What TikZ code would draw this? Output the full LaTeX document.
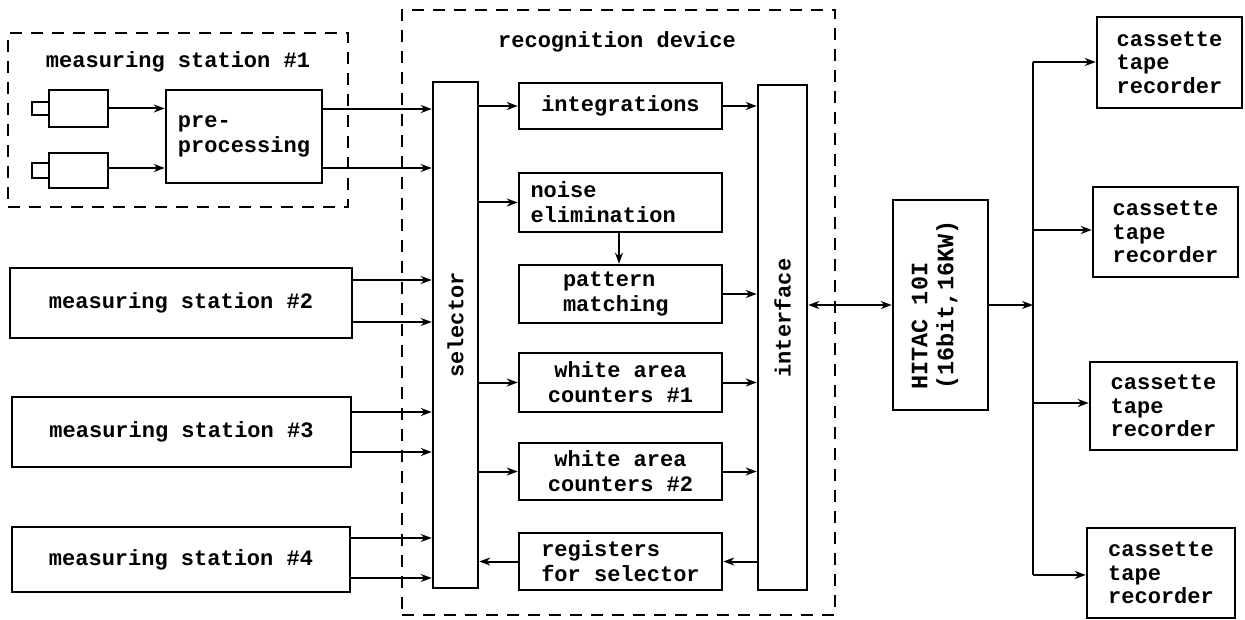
\documentclass[tikz,border=0pt]{standalone}
\usepackage{fontspec}
\setmonofont{Liberation Mono}
\usetikzlibrary{arrows.meta}
\begin{document}
\begin{tikzpicture}[x=1pt,y=-1pt,
  font=\ttfamily\bfseries\fontsize{22}{25}\selectfont,
  box/.style={draw,line width=2.5pt,inner sep=0pt,align=center},
  lbox/.style={box,align=left},
  grp/.style={draw,line width=1.8pt,dash pattern=on 12pt off 9pt},
  arr/.style={line width=2pt,-{Stealth[length=11pt,width=8pt]}},
  darr/.style={line width=2pt,{Stealth[length=11pt,width=8pt]}-{Stealth[length=11pt,width=8pt]}},
  ln/.style={line width=2pt}]
\useasboundingbox (0,0) rectangle (1245,620);
% group frames
\node[grp,minimum width=340pt,minimum height=174pt,inner sep=0pt] (g1) at (178,120) {};
\node (g1lab) at (178,62) {measuring station \#1};
\node[grp,minimum width=433pt,minimum height=605pt,inner sep=0pt] (g2) at (618.5,312.5) {};
\node (g2lab) at (617,42) {recognition device};
% measuring station 1
\node[box,minimum width=59pt,minimum height=37pt] (s1a) at (78.5,108.5) {};
\node[box,line width=2pt,minimum width=17pt,minimum height=13pt] (t1a) at (40.5,108.5) {};
\node[box,minimum width=59pt,minimum height=35pt] (s1b) at (78.5,170.5) {};
\node[box,line width=2pt,minimum width=17pt,minimum height=15pt] (t1b) at (40.5,170.5) {};
\node[lbox,minimum width=156pt,minimum height=93pt] (pre) at (244,136.5) {pre-\\processing};
% other stations
\node[box,minimum width=342pt,minimum height=70pt] (ms2) at (181,303) {measuring station \#2};
\node[box,minimum width=339pt,minimum height=70pt] (ms3) at (181.5,432) {measuring station \#3};
\node[box,minimum width=338pt,minimum height=65pt] (ms4) at (181,559.5) {measuring station \#4};
% recognition device
\node[box,minimum width=45pt,minimum height=506pt] (sel) at (455.5,335) {};
\node[rotate=90] (sellab) at (455.5,325) {selector};
\node[box,minimum width=49pt,minimum height=505pt] (itf) at (782.5,337.5) {};
\node[rotate=90] (itflab) at (782.5,318) {interface};
\node[box,minimum width=203pt,minimum height=46pt] (integ) at (620.5,106) {integrations};
\node[lbox,minimum width=203pt,minimum height=59pt,text width=180pt] (noise) at (620.5,202.5) {noise\\elimination};
\node[lbox,minimum width=203pt,minimum height=58pt,text width=115pt] (pat) at (620.5,294) {pattern\\matching};
\node[box,minimum width=203pt,minimum height=59pt] (wac1) at (620.5,382.5) {white area\\ counters \#1};
\node[box,minimum width=203pt,minimum height=57pt] (wac2) at (620.5,471.5) {white area\\ counters \#2};
\node[lbox,minimum width=203pt,minimum height=57pt] (regs) at (620.5,561.5) {registers\\for selector};
% computer
\node[box,minimum width=95pt,minimum height=210pt] (hit) at (940.5,305) {};
\node[rotate=90,align=left,font=\ttfamily\bfseries\fontsize{23.5}{26}\selectfont] (hitlab) at (935,305) {HITAC 10I\\(16bit,16KW)};
% cassettes
\node[lbox,minimum width=145pt,minimum height=91pt,font=\ttfamily\bfseries\fontsize{22}{23.5}\selectfont] (c1) at (1169.5,62.5) {cassette\\tape\\recorder};
\node[lbox,minimum width=145pt,minimum height=90pt,font=\ttfamily\bfseries\fontsize{22}{23.5}\selectfont] (c2) at (1165.5,232) {cassette\\tape\\recorder};
\node[lbox,minimum width=147pt,minimum height=88pt,font=\ttfamily\bfseries\fontsize{22}{23.5}\selectfont] (c3) at (1163.5,406) {cassette\\tape\\recorder};
\node[lbox,minimum width=148pt,minimum height=90pt,font=\ttfamily\bfseries\fontsize{22}{23.5}\selectfont] (c4) at (1161,573) {cassette\\tape\\recorder};
% bus coordinates
\coordinate (bt) at (1033,62);
\coordinate (bb) at (1033,575);
\coordinate (bh) at (1033,305);
% connectors station 1
\draw[arr] (s1a.east) -- (s1a.east -| pre.west);
\draw[arr] (s1b.east |- 0,168) -- (pre.west |- 0,168);
\draw[arr] (pre.east |- 0,109) -- (sel.west |- 0,109);
\draw[arr] (pre.east |- 0,168) -- (sel.west |- 0,168);
% stations 2-4
\draw[arr] (ms2.east |- 0,280) -- (sel.west |- 0,280);
\draw[arr] (ms2.east |- 0,322) -- (sel.west |- 0,322);
\draw[arr] (ms3.east |- 0,412) -- (sel.west |- 0,412);
\draw[arr] (ms3.east |- 0,452) -- (sel.west |- 0,452);
\draw[arr] (ms4.east |- 0,538) -- (sel.west |- 0,538);
\draw[arr] (ms4.east |- 0,578) -- (sel.west |- 0,578);
% selector to processing
\draw[arr] (sel.east |- integ.west) -- (integ.west);
\draw[arr] (sel.east |- noise.west) -- (noise.west);
\draw[arr] (sel.east |- wac1.west) -- (wac1.west);
\draw[arr] (sel.east |- wac2.west) -- (wac2.west);
\draw[arr] (noise.south -| 619,0) -- (pat.north -| 619,0);
% processing to interface
\draw[arr] (integ.east) -- (integ.east -| itf.west);
\draw[arr] (pat.east) -- (pat.east -| itf.west);
\draw[arr] (wac1.east) -- (wac1.east -| itf.west);
\draw[arr] (wac2.east) -- (wac2.east -| itf.west);
\draw[arr] (itf.west |- regs.east) -- (regs.east);
\draw[arr] (regs.west) -- (regs.west -| sel.east);
% interface - computer
\draw[darr] (itf.east |- hit.west) -- (hit.west);
\draw[arr] (hit.east) -- (bh);
\draw[ln] (bt) -- (bb);
\draw[arr] (bt) -- (bt -| c1.west);
\draw[arr] (bt |- 0,230) -- (c2.west |- 0,230);
\draw[arr] (bt |- 0,403) -- (c3.west |- 0,403);
\draw[arr] (bb) -- (bb -| c4.west);
\end{tikzpicture}
\end{document}
